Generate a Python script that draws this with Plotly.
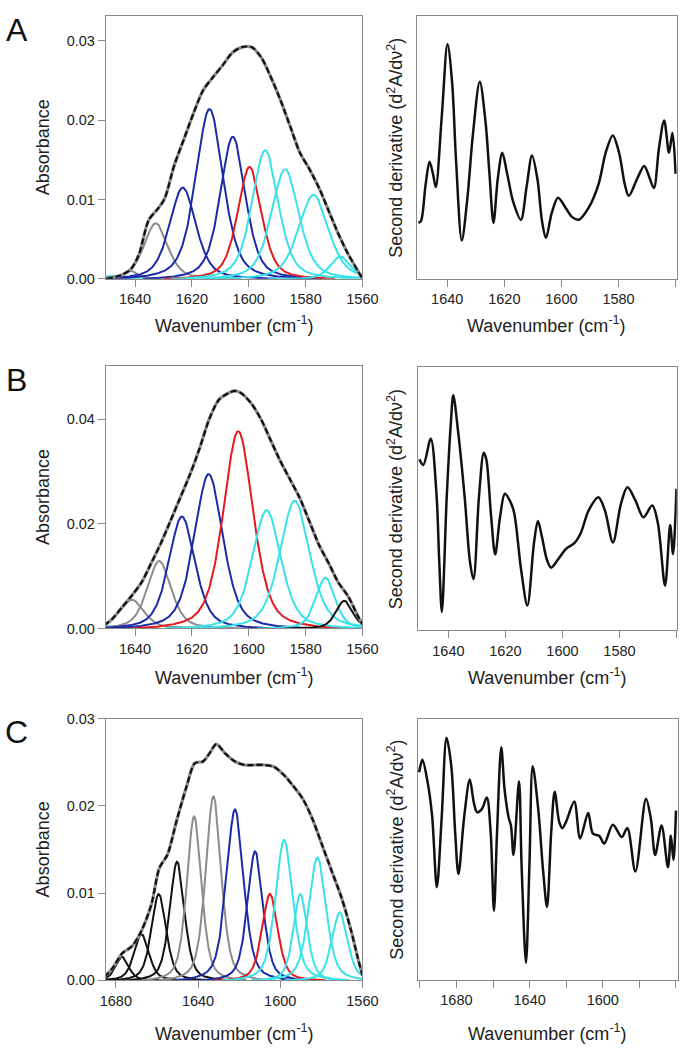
import numpy as np
import plotly.graph_objects as go

W, H = 700, 1058
FONT = "Liberation Sans, Arial, Helvetica, sans-serif"

# ---------------- Panel A ----------------
A_band_center = [1648.0, 1641.5, 1632.7, 1623.2, 1613.8, 1605.6, 1599.7, 1594.2, 1587.2, 1577.2, 1567.7]
A_band_height = [0.0004, 0.0010, 0.0070, 0.0115, 0.0214, 0.0179, 0.0141, 0.0162, 0.0138, 0.0106, 0.0028]
A_band_fwhm = [5.5, 5.5, 10.0, 11.0, 11.5, 10.5, 10.0, 11.0, 11.5, 12.5, 8.5]
A_band_class = ["cyan", "gray", "gray", "blue", "blue", "blue", "red", "cyan", "cyan", "cyan", "cyan"]

A_env_wn = [1650.0, 1645.4, 1641.5, 1638.6, 1635.2, 1631.8, 1629.6, 1626.2, 1622.8, 1619.4, 1616.0,
            1612.6, 1609.2, 1605.8, 1602.4, 1599.0, 1595.6, 1592.2, 1588.8, 1585.4, 1582.0, 1578.6,
            1575.2, 1571.8, 1568.4, 1565.0, 1561.6, 1560.0]
A_env_abs = [0.0, 0.0004, 0.0012, 0.0031, 0.0074, 0.0089, 0.0101, 0.0143, 0.0176, 0.0209, 0.0238,
             0.0254, 0.0269, 0.0285, 0.0292, 0.0292, 0.0279, 0.0254, 0.0225, 0.0192, 0.0159, 0.0138,
             0.0114, 0.0085, 0.0056, 0.0031, 0.0010, 0.0]

A_d2_wn = [1650.1, 1649.2, 1647.6, 1646.2, 1645.0, 1644.0, 1641.9, 1639.9, 1638.3, 1636.9, 1634.9,
           1633.0, 1631.0, 1628.6, 1626.6, 1625.2, 1623.8, 1622.3, 1620.7, 1619.0, 1616.8, 1614.2,
           1612.2, 1610.3, 1608.4, 1606.8, 1605.4, 1603.4, 1601.2, 1598.5, 1596.2, 1593.9, 1590.5,
           1587.0, 1584.5, 1582.0, 1579.8, 1577.8, 1576.4, 1573.5, 1571.0, 1569.3, 1567.6, 1565.8,
           1564.0, 1562.3, 1561.1, 1560.0]
A_d2_val = [21.3, 22.0, 35.6, 44.6, 40.0, 35.0, 62.0, 89.4, 75.0, 45.0, 14.6,
            30.0, 55.0, 75.0, 60.0, 40.0, 21.3, 38.0, 48.0, 40.0, 29.0, 22.5,
            35.0, 47.0, 38.0, 22.0, 15.6, 25.0, 30.9, 27.0, 23.5, 22.5, 27.0,
            36.0, 48.0, 54.6, 48.0, 36.0, 31.6, 38.0, 43.0, 39.0, 34.6, 50.0,
            60.3, 48.0, 55.6, 40.0]

# ---------------- Panel B ----------------
B_band_center = [1648.5, 1641.1, 1631.5, 1623.5, 1614.1, 1603.7, 1593.7, 1583.8, 1573.0, 1566.4]
B_band_height = [0.0004, 0.0055, 0.0129, 0.0214, 0.0295, 0.0377, 0.0226, 0.0244, 0.0097, 0.0053]
B_band_fwhm = [5.5, 10.0, 10.0, 11.0, 12.0, 12.5, 12.0, 12.5, 8.0, 7.0]
B_band_class = ["cyan", "gray", "gray", "blue", "blue", "red", "cyan", "cyan", "cyan", "black"]

B_env_wn = [1650.8, 1647.9, 1644.5, 1641.1, 1637.7, 1634.3, 1630.9, 1627.5, 1624.1, 1620.7, 1617.3,
            1613.9, 1610.5, 1607.1, 1604.8, 1602.5, 1599.1, 1595.7, 1592.3, 1588.9, 1585.5, 1582.1,
            1578.7, 1575.3, 1571.9, 1568.5, 1565.1, 1561.7, 1560.0]
B_env_abs = [0.0006, 0.0019, 0.0041, 0.0063, 0.0088, 0.0125, 0.0163, 0.0206, 0.0250, 0.0294, 0.0344,
             0.0400, 0.0437, 0.0450, 0.0454, 0.0449, 0.0430, 0.0400, 0.0360, 0.0320, 0.0285, 0.0250,
             0.0205, 0.0160, 0.0125, 0.0088, 0.0062, 0.0025, 0.0008]

B_d2_wn = [1650.2, 1648.8, 1646.2, 1644.2, 1643.2, 1642.3, 1640.6, 1639.2, 1638.3, 1636.6, 1634.3,
           1632.4, 1631.2, 1629.3, 1627.6, 1626.7, 1625.1, 1623.6, 1621.9, 1620.2, 1618.5, 1617.0,
           1614.5, 1612.3, 1610.0, 1608.6, 1607.2, 1605.5, 1604.0, 1601.5, 1598.7, 1595.9, 1593.6,
           1590.8, 1587.4, 1585.1, 1582.3, 1579.5, 1577.2, 1574.4, 1571.6, 1568.5, 1566.5, 1564.0,
           1562.2, 1561.2, 1560.0]
B_d2_val = [65.0, 62.9, 72.9, 52.0, 25.6, 6.9, 50.6, 78.0, 89.4, 75.6, 50.6,
            25.6, 19.4, 50.6, 67.5, 65.0, 44.4, 28.8, 43.0, 51.9, 49.4, 45.0,
            23.0, 9.4, 33.0, 41.6, 35.6, 27.0, 23.8, 27.0, 31.0, 33.0, 36.9,
            45.6, 50.6, 45.6, 33.4, 48.0, 54.4, 49.4, 43.0, 47.5, 40.6, 16.9,
            40.0, 29.0, 53.8]

# ---------------- Panel C ----------------
C_band_center = [1676.9, 1667.5, 1659.1, 1650.2, 1641.9, 1632.5, 1622.0, 1612.2, 1605.0, 1598.1, 1590.2, 1581.9, 1571.0]
C_band_height = [0.0027, 0.0053, 0.0099, 0.0136, 0.0188, 0.0211, 0.0196, 0.0148, 0.0099, 0.0161, 0.0099, 0.0141, 0.0078]
C_band_fwhm = [7.5, 8.5, 8.5, 8.5, 8.5, 9.0, 10.0, 9.0, 9.0, 10.0, 8.0, 10.0, 9.0]
C_band_class = ["black", "black", "black", "black", "gray", "gray", "blue", "blue", "red", "cyan", "cyan", "cyan", "cyan"]

C_env_wn = [1685.5, 1681.6, 1676.9, 1672.2, 1667.5, 1662.7, 1658.8, 1654.9, 1650.2, 1645.5, 1641.6,
            1637.6, 1634.5, 1631.1, 1626.7, 1622.0, 1617.3, 1612.5, 1607.8, 1603.1, 1598.4, 1593.7,
            1589.0, 1584.3, 1579.6, 1574.9, 1570.2, 1565.5, 1562.4, 1560.0]
C_env_abs = [0.0004, 0.0014, 0.0031, 0.0039, 0.0057, 0.0087, 0.0129, 0.0144, 0.0185, 0.0223, 0.0249,
             0.0251, 0.0260, 0.0271, 0.0260, 0.0251, 0.0247, 0.0247, 0.0247, 0.0245, 0.0236, 0.0223,
             0.0208, 0.0185, 0.0155, 0.0125, 0.0095, 0.0057, 0.0027, 0.0006]

C_d2_wn = [1700.4, 1698.6, 1696.0, 1693.3, 1690.7, 1688.0, 1685.4, 1682.8, 1680.7, 1678.9, 1675.7,
           1672.7, 1670.5, 1668.7, 1666.1, 1663.4, 1661.3, 1659.5, 1657.8, 1655.5, 1653.7, 1651.5,
           1650.2, 1648.8, 1645.8, 1644.4, 1642.0, 1640.1, 1638.3, 1635.3, 1632.6, 1630.5, 1628.2,
           1626.3, 1623.8, 1622.1, 1619.8, 1615.6, 1612.4, 1608.0, 1605.4, 1601.9, 1599.2, 1594.5,
           1589.6, 1586.6, 1582.2, 1576.4, 1573.7, 1571.4, 1567.9, 1564.4, 1562.8, 1561.4, 1560.0]
C_d2_val = [79.5, 84.3, 76.7, 62.9, 35.5, 62.9, 92.7, 81.8, 56.6, 40.5, 62.9,
            76.7, 67.9, 64.2, 65.4, 69.8, 56.6, 26.4, 56.6, 89.1, 73.0, 62.3,
            59.1, 47.8, 76.1, 44.0, 6.5, 44.0, 81.8, 65.4, 41.5, 27.9, 56.6,
            72.0, 60.4, 58.1, 61.0, 68.3, 54.1, 63.9, 56.0, 55.1, 52.2, 59.4,
            54.7, 58.2, 41.5, 69.4, 61.6, 47.8, 59.1, 43.1, 55.3, 45.9, 64.8]

COLORS = {"gray": "#8c8c8c", "blue": "#1b2aa6", "red": "#e3191e", "cyan": "#38e2e8", "black": "#111111"}
FRAME = "#8a8a8a"
ETA = 0.5      # Lorentzian fraction of the band profile
CUT = 3.0      # band drawn over centre +/- CUT * FWHM


def profile(d):
    return ETA / (1.0 + 4 * d * d) + (1 - ETA) * np.exp(-4 * np.log(2) * d * d)


def band(x, c, h, w):
    d = (x - c) / w
    base = profile(CUT)
    return h * np.clip((profile(d) - base) / (1 - base), 0, None)


panels = [
    dict(letter="A", letter_y=22, xl=(103, 368), yl=(8.3, 275), xr=(424, 692.5), yr=(8.3, 275),
         lrange=[1650.3, 1560], ylim=[0, 0.0331], yt=[0, 0.01, 0.02, 0.03],
         lxt=[1640, 1620, 1600, 1580, 1560], rrange=[1650.7, 1559.6],
         rxt=[1640, 1620, 1600, 1580], rminor=[1560],
         bands=(A_band_center, A_band_height, A_band_fwhm, A_band_class),
         env=(A_env_wn, A_env_abs), d2=(A_d2_wn, A_d2_val), xt_y=321),
    dict(letter="B", letter_y=378, xl=(103, 368), yl=(363.3, 630), xr=(425, 692.5), yr=(365, 631.7),
         lrange=[1650.3, 1560], ylim=[0, 0.0502], yt=[0, 0.02, 0.04],
         lxt=[1640, 1620, 1600, 1580, 1560], rrange=[1650.8, 1559.9],
         rxt=[1640, 1620, 1600, 1580], rminor=[1560],
         bands=(B_band_center, B_band_height, B_band_fwhm, B_band_class),
         env=(B_env_wn, B_env_abs), d2=(B_d2_wn, B_d2_val), xt_y=679),
    dict(letter="C", letter_y=735, xl=(103, 368), yl=(721.7, 987.3), xr=(425, 694), yr=(721.7, 986.7),
         lrange=[1684.9, 1560], ylim=[0, 0.03], yt=[0, 0.01, 0.02, 0.03],
         lxt=[1680, 1640, 1600, 1560], rrange=[1701.2, 1558.8],
         rxt=[1680, 1640, 1600], rminor=[1700, 1660, 1620, 1580, 1560],
         bands=(C_band_center, C_band_height, C_band_fwhm, C_band_class),
         env=(C_env_wn, C_env_abs), d2=(C_d2_wn, C_d2_val), xt_y=1040),
]

fig = go.Figure()
layout = dict(width=W, height=H, margin=dict(l=0, r=0, t=0, b=0), paper_bgcolor="white",
              plot_bgcolor="white", showlegend=False, hovermode=False,
              font=dict(family=FONT, color="#222"))
annotations = []

axis_common = dict(showline=True, mirror=True, linecolor=FRAME, linewidth=1, showgrid=False,
                   zeroline=False, tickcolor=FRAME, tickwidth=1, ticklen=7,
                   tickfont=dict(family=FONT, size=14.5, color="#222"))


def xd(a, b):
    return [a / W, b / W]


def yd(a, b):
    return [1 - b / H, 1 - a / H]


for i, p in enumerate(panels):
    nl = 2 * i + 1
    nr = 2 * i + 2
    xl_name = "x" if nl == 1 else f"x{nl}"
    yl_name = "y" if nl == 1 else f"y{nl}"
    xr_name = f"x{nr}"
    yr_name = f"y{nr}"

    cen, hei, fw, cls = p["bands"]
    xmin, xmax = min(p["lrange"]), max(p["lrange"])
    for c, h, w, k in zip(cen, hei, fw, cls):
        xs = np.linspace(max(c - CUT * w, xmin), min(c + CUT * w, xmax), 260)
        fig.add_trace(go.Scatter(x=xs, y=band(xs, c, h, w), mode="lines", xaxis=xl_name, yaxis=yl_name,
                                 line=dict(color=COLORS[k], width=2), hoverinfo="skip"))
    ew, ea = p["env"]
    fig.add_trace(go.Scatter(x=ew, y=ea, mode="lines", xaxis=xl_name, yaxis=yl_name,
                             line=dict(color="#8e8e8e", width=3.2, shape="spline", smoothing=0.8)))
    fig.add_trace(go.Scatter(x=ew, y=ea, mode="lines", xaxis=xl_name, yaxis=yl_name,
                             line=dict(color="#111111", width=2.2, dash="6px,3px", shape="spline", smoothing=0.8)))
    dw, dv = p["d2"]
    fig.add_trace(go.Scatter(x=dw, y=dv, mode="lines", xaxis=xr_name, yaxis=yr_name,
                             line=dict(color="#111111", width=2.5, shape="spline", smoothing=0.9)))

    layout["xaxis" if nl == 1 else f"xaxis{nl}"] = dict(
        axis_common, domain=xd(*p["xl"]), range=p["lrange"], anchor=yl_name,
        ticks="outside", tickmode="array", tickvals=p["lxt"], ticktext=[str(v) for v in p["lxt"]])
    layout["yaxis" if nl == 1 else f"yaxis{nl}"] = dict(
        axis_common, domain=yd(*p["yl"]), range=p["ylim"], anchor=xl_name,
        ticks="outside", tickmode="array", tickvals=p["yt"], ticktext=[f"{v:.2f}" for v in p["yt"]])
    layout[f"xaxis{nr}"] = dict(
        axis_common, domain=xd(*p["xr"]), range=p["rrange"], anchor=yr_name,
        ticks="outside", tickmode="array", tickvals=p["rxt"], ticktext=[str(v) for v in p["rxt"]],
        minor=dict(tickmode="array", tickvals=p["rminor"], ticks="outside", ticklen=7,
                   tickcolor=FRAME, tickwidth=1, showgrid=False))
    layout[f"yaxis{nr}"] = dict(
        axis_common, domain=yd(*p["yr"]), range=[0, 100], anchor=xr_name,
        ticks="", showticklabels=False)

    annotations.append(dict(text=p["letter"], x=11 / W, y=1 - p["letter_y"] / H, xref="paper", yref="paper",
                            showarrow=False, xanchor="center", yanchor="middle",
                            font=dict(family=FONT, size=32, color="#111")))
    yc_l = (p["yl"][0] + p["yl"][1]) / 2
    yc_r = (p["yr"][0] + p["yr"][1]) / 2
    annotations.append(dict(text="Absorbance", x=38 / W, y=1 - yc_l / H, xref="paper", yref="paper",
                            showarrow=False, textangle=-90, xanchor="center", yanchor="middle",
                            font=dict(family=FONT, size=18, color="#222")))
    annotations.append(dict(text="Second derivative (d<sup>2</sup>A/d\u03bd<sup>2</sup>)", x=402 / W,
                            y=1 - yc_r / H, xref="paper", yref="paper", showarrow=False, textangle=-90,
                            xanchor="center", yanchor="middle", font=dict(family=FONT, size=18, color="#222")))
    for (a, b) in (p["xl"], p["xr"]):
        annotations.append(dict(text="Wavenumber (cm<sup>-1</sup>)", x=(a + b) / 2 / W, y=1 - p["xt_y"] / H,
                                xref="paper", yref="paper", showarrow=False, xanchor="center", yanchor="middle",
                                font=dict(family=FONT, size=18, color="#222")))

layout["annotations"] = annotations
fig.update_layout(**layout)
fig.write_html("out.html", config={"displayModeBar": False, "staticPlot": True},
               post_script="document.body.style.margin='0px';document.body.style.padding='0px';")
